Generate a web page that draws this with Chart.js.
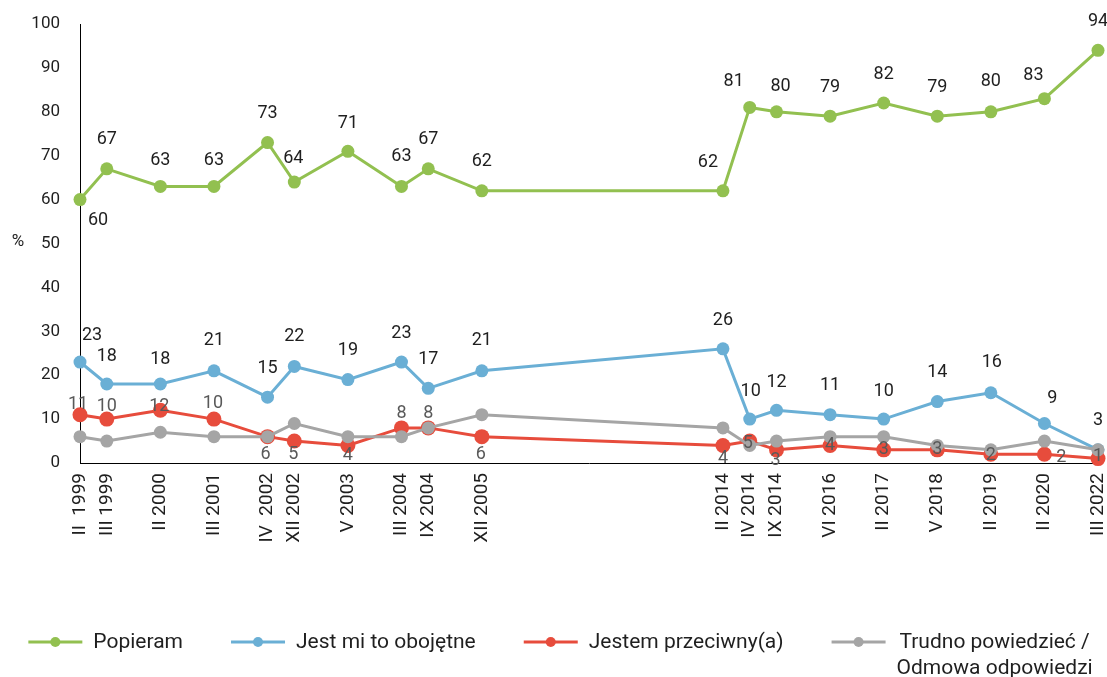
<!DOCTYPE html>
<html><head><meta charset="utf-8">
<script src="https://cdn.jsdelivr.net/npm/chart.js@4"></script>
<style>html,body{margin:0;padding:0;background:#fff}#wrap{width:1107px;height:677px;position:relative}</style>
</head><body><div id="wrap"><canvas id="c"></canvas></div>
<script>
// ---- data ----
const categories = ['II  1999','III 1999','II 2000','III 2001','IV  2002','XII 2002','V 2003','III 2004','IX 2004','XII 2005','II 2014','IV 2014','IX 2014','VI 2016','II 2017','V 2018','II 2019','II 2020','III 2022'];
// slot of each survey on the category axis (the axis has blank categories in between)
const categorySlots = [0,1,3,5,7,8,10,12,13,15,24,25,26,28,30,32,34,36,38];
const slotCount = 39;
const popieram  = [60,67,63,63,73,64,71,63,67,62,62,81,80,79,82,79,80,83,94];
const obojetne  = [23,18,18,21,15,22,19,23,17,21,26,10,12,11,10,14,16,9,3];
const przeciwny = [11,10,12,10,6,5,4,8,8,6,4,5,3,4,3,3,2,2,1];
const trudno    = [6,5,7,6,6,9,6,6,8,11,8,4,5,6,6,4,3,5,3];
const seriesNames = ['Popieram','Jest mi to obojętne','Jestem przeciwny(a)',['Trudno powiedzieć /','Odmowa odpowiedzi']];
const yMin = 0, yMax = 100, yStep = 10;

// ---- styles ----
const colors = ['#92c050','#6aafd5','#e74c3c','#a5a5a5'];
const FONT = 'Roboto';
// data label offsets relative to the point [dx, dy] in px (null = no labels)
const labelOffsets = [
  [[18,21],[0,-29],[0,-26],[0,-26],[0,-29],[-1,-24],[0,-28],[0,-30],[0,-29],[0,-29],[-15,-28],[-16,-26],[4,-25],[0,-29],[0,-29],[0,-29],[0,-30],[-11,-23],[0,-29]],
  [[12,-27],[0,-27],[0,-24],[0,-30],[0,-29],[0,-30],[0,-29],[0,-29],[0,-29],[0,-30],[0,-28],[1,-28],[0,-28],[0,-29],[0,-28],[0,-29],[1,-30],[8,-25],[0,-29]],
  [[-2,-10],[0,-13],[-1,-4],[-1,-16],[-2,18],[-1,13],[0,10],[0,-14],[0,-14],[-1,18],[0,13],[-2,2],[-1,11],[0,0],[0,0],[0,0],[0,1],[17,3],[0,-2]],
  null
];
const labelColors = ['#1f1f1f','#1f1f1f','#595959',null];

// ---- build ----
const axisLabels = new Array(slotCount).fill('');
categorySlots.forEach((s,i)=>{ axisLabels[s] = categories[i]; });
function toSlots(values){
  const arr = new Array(slotCount).fill(null);
  categorySlots.forEach((s,i)=>{ arr[s] = values[i]; });
  return arr;
}
const seriesValues = [popieram, obojetne, przeciwny, trudno];
const radii = [6.5,6.5,7.5,6.5];
const orders = [3,2,1,0];
const datasets = seriesValues.map((v,i)=>({
  label: Array.isArray(seriesNames[i]) ? seriesNames[i].join(' ') : seriesNames[i],
  data: toSlots(v),
  borderColor: colors[i],
  backgroundColor: colors[i],
  pointBackgroundColor: colors[i],
  pointBorderColor: colors[i],
  pointBorderWidth: 0,
  pointRadius: radii[i],
  pointHoverRadius: radii[i],
  borderWidth: 3,
  tension: 0,
  spanGaps: true,
  order: orders[i],
  clip: false
}));

const labelPlugin = {
  id: 'labels',
  afterDatasetsDraw(chart){
    const ctx = chart.ctx;
    ctx.save();
    ctx.font = '18px ' + FONT;
    ctx.textAlign = 'center';
    ctx.textBaseline = 'middle';
    seriesValues.forEach((vals, di)=>{
      const offs = labelOffsets[di];
      if(!offs) return;
      const meta = chart.getDatasetMeta(di);
      ctx.fillStyle = labelColors[di];
      categorySlots.forEach((s,i)=>{
        const el = meta.data[s];
        ctx.fillText(String(vals[i]), el.x + offs[i][0], el.y + offs[i][1]);
      });
    });
    ctx.restore();
  },
  afterDraw(chart){
    const ctx = chart.ctx;
    ctx.save();
    // "%" axis title
    ctx.font = '17px ' + FONT;
    ctx.fillStyle = '#1f1f1f';
    ctx.textAlign = 'center';
    ctx.textBaseline = 'middle';
    ctx.fillText('%', 18, chart.scales.y.getPixelForValue(50) - 2);
    // legend
    ctx.font = '21px ' + FONT;
    const symW = 54, symGap = 11, itemGap = 48, lineH = 26;
    const widths = seriesNames.map(n=>{
      const lines = Array.isArray(n) ? n : [n];
      return Math.max(...lines.map(l=>ctx.measureText(l).width));
    });
    const total = widths.reduce((a,w)=>a+symW+symGap+w,0) + itemGap*(widths.length-1);
    let x = (chart.width - total)/2 + 7;
    const y0 = chart.height - 35;
    seriesNames.forEach((n,i)=>{
      ctx.strokeStyle = colors[i];
      ctx.lineWidth = 3;
      ctx.beginPath(); ctx.moveTo(x, y0); ctx.lineTo(x+symW, y0); ctx.stroke();
      ctx.fillStyle = colors[i];
      ctx.beginPath(); ctx.arc(x+symW/2, y0, 5, 0, Math.PI*2); ctx.fill();
      const lines = Array.isArray(n) ? n : [n];
      ctx.fillStyle = '#1f1f1f';
      ctx.textAlign = 'center';
      const cx = x + symW + symGap + widths[i]/2;
      lines.forEach((l,k)=> ctx.fillText(l, cx, y0 + 1 + k*lineH));
      x += symW + symGap + widths[i] + itemGap;
    });
    ctx.restore();
  }
};

new Chart(document.getElementById('c'), {
  type: 'line',
  data: { labels: axisLabels, datasets },
  plugins: [labelPlugin],
  options: {
    responsive: true,
    maintainAspectRatio: false,
    animation: false,
    events: [],
    layout: { padding: { left: 0, right: 9, top: 24, bottom: 114 } },
    plugins: { legend: { display: false }, tooltip: { enabled: false } },
    scales: {
      x: {
        type: 'category',
        offset: false,
        grid: { display: true, drawOnChartArea: false, drawTicks: false },
        border: { display: true, color: '#000', width: 1 },
        ticks: { autoSkip: false, minRotation: 90, maxRotation: 90, padding: 10, color: '#1f1f1f', font: { family: FONT, size: 19 } },
        afterFit(s){ s.height = 100; s.paddingLeft = 0; s.paddingRight = 0; }
      },
      y: {
        min: yMin, max: yMax,
        grid: { display: true, drawOnChartArea: false, drawTicks: false },
        border: { display: true, color: '#000', width: 1 },
        ticks: { stepSize: yStep, padding: 20, color: '#1f1f1f', font: { family: FONT, size: 17 } },
        afterFit(s){ s.width = 80; s.paddingTop = 0; s.paddingBottom = 0; }
      }
    }
  }
});
</script></body></html>
